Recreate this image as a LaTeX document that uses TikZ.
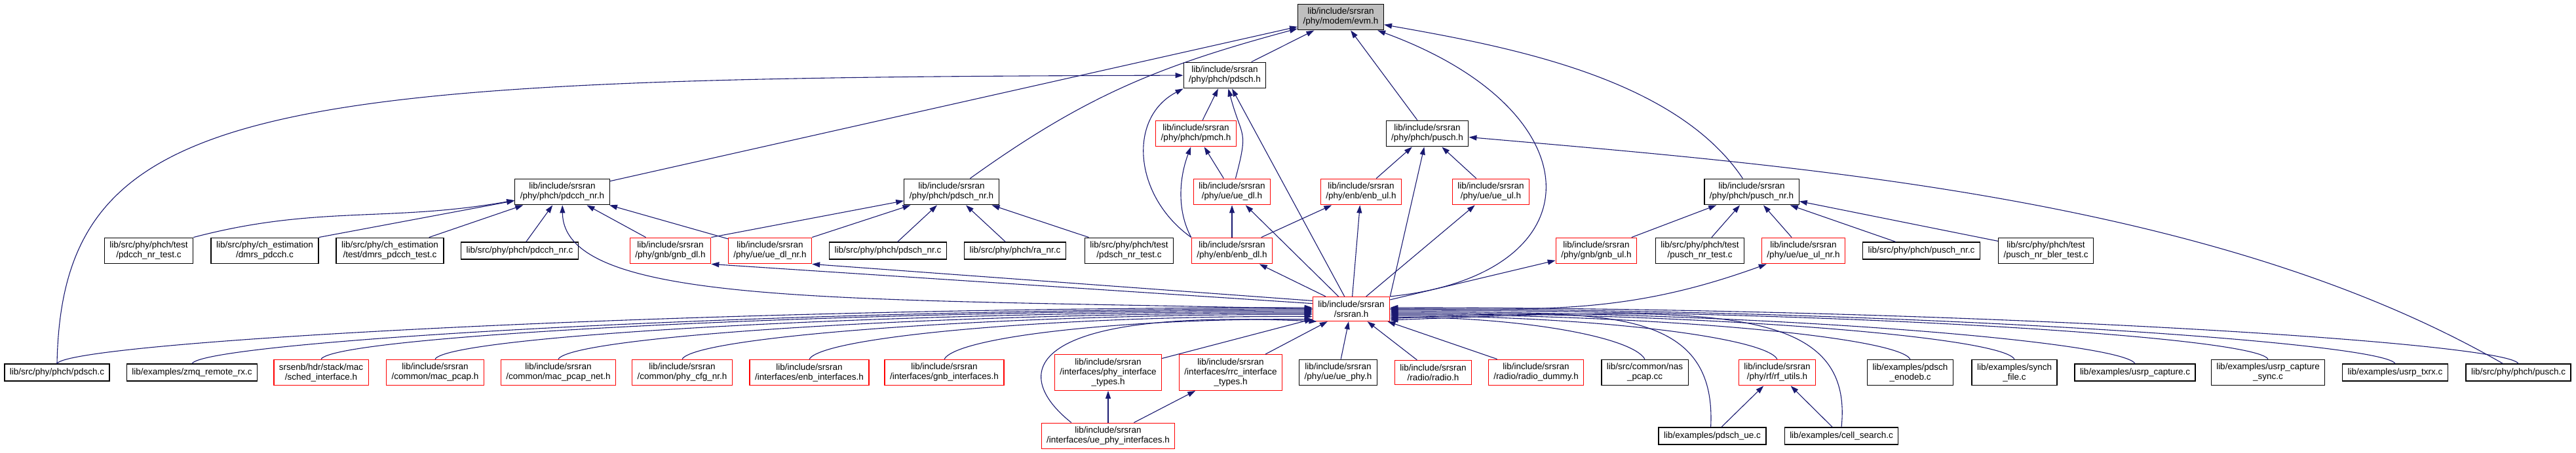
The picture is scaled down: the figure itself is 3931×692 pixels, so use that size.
\documentclass[tikz,border=0pt]{standalone}
\usepackage{fontspec}
\usetikzlibrary{arrows.meta}
\newfontfamily\doxysans{Liberation Sans}
\newcommand\doxyfont{\doxysans\fontsize{13.5}{15}\selectfont}
\definecolor{edgeblue}{HTML}{191970}
\definecolor{rootgray}{HTML}{BFBFBF}
\tikzset{
  file/.style={draw=black,line width=1.3pt,fill=white,align=center,inner xsep=8pt,inner ysep=6pt,minimum height=26pt,font=\doxyfont},
  trunc/.style={file,draw=red},
  root/.style={file,fill=rootgray},
  dep/.style={draw=edgeblue,line width=1.1pt,-{Triangle[length=12pt,width=8pt]}},
}
\begin{document}
\begin{tikzpicture}[x=1pt,y=1pt]
\useasboundingbox (0,0) rectangle (3931,-692);
% headers, top part
\node[root] (evm) at (2046,-26) {lib/include/srsran\\/phy/modem/evm.h};
\node[file] (pdschh) at (1869,-115) {lib/include/srsran\\/phy/phch/pdsch.h};
\node[trunc] (pmch) at (1825,-204) {lib/include/srsran\\/phy/phch/pmch.h};
\node[file] (puschh) at (2178,-204) {lib/include/srsran\\/phy/phch/pusch.h};
\node[file] (pdcchnr) at (858,-293) {lib/include/srsran\\/phy/phch/pdcch\_nr.h};
\node[file] (pdschnr) at (1452,-293) {lib/include/srsran\\/phy/phch/pdsch\_nr.h};
\node[trunc] (uedl) at (1880,-293) {lib/include/srsran\\/phy/ue/ue\_dl.h};
\node[trunc] (enbul) at (2077,-293) {lib/include/srsran\\/phy/enb/enb\_ul.h};
\node[trunc] (ueul) at (2275,-293) {lib/include/srsran\\/phy/ue/ue\_ul.h};
\node[file] (puschnr) at (2673,-293) {lib/include/srsran\\/phy/phch/pusch\_nr.h};
% row of nr files
\node[file] (pdcchnrtest) at (227,-383) {lib/src/phy/phch/test\\/pdcch\_nr\_test.c};
\node[file] (dmrspdcch) at (404,-383) {lib/src/phy/ch\_estimation\\/dmrs\_pdcch.c};
\node[file] (dmrspdcchtest) at (595,-383) {lib/src/phy/ch\_estimation\\/test/dmrs\_pdcch\_test.c};
\node[file] (pdcchnrc) at (793,-383) {lib/src/phy/phch/pdcch\_nr.c};
\node[trunc] (gnbdl) at (1023,-383) {lib/include/srsran\\/phy/gnb/gnb\_dl.h};
\node[trunc] (uedlnr) at (1175,-383) {lib/include/srsran\\/phy/ue/ue\_dl\_nr.h};
\node[file] (pdschnrc) at (1355,-383) {lib/src/phy/phch/pdsch\_nr.c};
\node[file] (ranrc) at (1549,-383) {lib/src/phy/phch/ra\_nr.c};
\node[file] (pdschnrtest) at (1723,-383) {lib/src/phy/phch/test\\/pdsch\_nr\_test.c};
\node[trunc] (enbdl) at (1880,-383) {lib/include/srsran\\/phy/enb/enb\_dl.h};
\node[trunc] (gnbul) at (2436,-383) {lib/include/srsran\\/phy/gnb/gnb\_ul.h};
\node[file] (puschnrtest) at (2594,-383) {lib/src/phy/phch/test\\/pusch\_nr\_test.c};
\node[trunc] (ueulnr) at (2752,-383) {lib/include/srsran\\/phy/ue/ue\_ul\_nr.h};
\node[file] (puschnrc) at (2932,-383) {lib/src/phy/phch/pusch\_nr.c};
\node[file] (puschnrbler) at (3122,-383) {lib/src/phy/phch/test\\/pusch\_nr\_bler\_test.c};
\node[trunc] (srsran) at (2062,-472) {lib/include/srsran\\/srsran.h};
% files including srsran.h
\node[file] (pdschc) at (87,-569) {lib/src/phy/phch/pdsch.c};
\node[file] (zmqrx) at (293,-569) {lib/examples/zmq\_remote\_rx.c};
\node[trunc] (schedif) at (490,-569) {srsenb/hdr/stack/mac\\/sched\_interface.h};
\node[trunc] (macpcap) at (664,-569) {lib/include/srsran\\/common/mac\_pcap.h};
\node[trunc] (macpcapnet) at (852,-569) {lib/include/srsran\\/common/mac\_pcap\_net.h};
\node[trunc] (phycfgnr) at (1041,-569) {lib/include/srsran\\/common/phy\_cfg\_nr.h};
\node[trunc] (enbif) at (1235,-569) {lib/include/srsran\\/interfaces/enb\_interfaces.h};
\node[trunc] (gnbif) at (1441,-569) {lib/include/srsran\\/interfaces/gnb\_interfaces.h};
\node[trunc] (phyiftypes) at (1691,-569) {lib/include/srsran\\/interfaces/phy\_interface\\\_types.h};
\node[trunc] (rrciftypes) at (1878,-569) {lib/include/srsran\\/interfaces/rrc\_interface\\\_types.h};
\node[file] (uephy) at (2042,-569) {lib/include/srsran\\/phy/ue/ue\_phy.h};
\node[trunc] (radio) at (2187,-569) {lib/include/srsran\\/radio/radio.h};
\node[trunc] (radiodummy) at (2344,-569) {lib/include/srsran\\/radio/radio\_dummy.h};
\node[file] (naspcap) at (2510,-569) {lib/src/common/nas\\\_pcap.cc};
\node[trunc] (rfutils) at (2712,-569) {lib/include/srsran\\/phy/rf/rf\_utils.h};
\node[file] (pdschenodeb) at (2915,-569) {lib/examples/pdsch\\\_enodeb.c};
\node[file] (synchfile) at (3074,-569) {lib/examples/synch\\\_file.c};
\node[file] (usrpcapture) at (3258,-569) {lib/examples/usrp\_capture.c};
\node[file] (usrpcapturesync) at (3461,-569) {lib/examples/usrp\_capture\\\_sync.c};
\node[file] (usrptxrx) at (3655,-569) {lib/examples/usrp\_txrx.c};
\node[file] (puschc) at (3843,-569) {lib/src/phy/phch/pusch.c};
\node[trunc] (uephyif) at (1691,-666) {lib/include/srsran\\/interfaces/ue\_phy\_interfaces.h};
\node[file] (pdschue) at (2613,-666) {lib/examples/pdsch\_ue.c};
\node[file] (cellsearch) at (2810,-666) {lib/examples/cell\_search.c};
% to evm.h
\draw[dep] (pdschh) -- (evm);
\draw[dep] (puschh) -- (evm);
\draw[dep] (pdcchnr) -- (evm);
\draw[dep] (pdschnr) .. controls (1655,-147) and (1767,-101) .. (evm);
\draw[dep] (puschnr) .. controls (2556,-118) and (2300,-71) .. (evm);
\draw[dep] (srsran.north east) .. controls (2440,-420) and (2440,-170) .. (evm.-20);
% to pdsch.h, pmch.h, pusch.h
\draw[dep] (pmch) -- (pdschh);
\draw[dep] (uedl) .. controls (1906,-195) and (1895,-213) .. (pdschh);
\draw[dep] (enbdl.north west) .. controls (1730,-300) and (1720,-180) .. (pdschh.south west);
\draw[dep] (srsran) -- (pdschh);
\draw[dep] (pdschc.north) .. controls (95,-150) and (400,-118) .. (pdschh);
\draw[dep] (uedl) -- (pmch);
\draw[dep] (enbdl.north west) .. controls (1795,-320) and (1800,-270) .. (pmch);
\draw[dep] (enbul) -- (puschh);
\draw[dep] (ueul) -- (puschh);
\draw[dep] (srsran.north east) -- (puschh);
\draw[dep] (puschc) .. controls (3379,-302) and (2750,-254) .. (puschh);
% to pdcch_nr.h, pdsch_nr.h, pusch_nr.h
\draw[dep] (pdcchnrtest.north east) .. controls (483,-313) and (595,-340) .. (pdcchnr);
\draw[dep] (dmrspdcch.north east) -- (pdcchnr);
\draw[dep] (dmrspdcchtest) -- (pdcchnr);
\draw[dep] (pdcchnrc) -- (pdcchnr);
\draw[dep] (gnbdl) -- (pdcchnr);
\draw[dep] (uedlnr) -- (pdcchnr);
\draw[dep] (srsran.west) .. controls (1300,-455) and (860,-470) .. (pdcchnr);
\draw[dep] (gnbdl.north east) -- (pdschnr);
\draw[dep] (uedlnr.north east) -- (pdschnr);
\draw[dep] (pdschnrc) -- (pdschnr);
\draw[dep] (ranrc) -- (pdschnr);
\draw[dep] (pdschnrtest) -- (pdschnr);
\draw[dep] (gnbul) -- (puschnr);
\draw[dep] (puschnrtest) -- (puschnr);
\draw[dep] (ueulnr) -- (puschnr);
\draw[dep] (puschnrc) -- (puschnr);
\draw[dep] (puschnrbler) -- (puschnr);
% from srsran.h upwards
\draw[dep] (enbdl) -- (uedl);
\draw[dep] (srsran) -- (uedl);
\draw[dep] (enbdl) -- (enbul);
\draw[dep] (srsran) -- (enbul);
\draw[dep] (srsran) -- (ueul);
\draw[dep] (srsran) -- (enbdl);
\draw[dep] (srsran.172) -- (gnbdl.south east);
\draw[dep] (srsran.168) -- (uedlnr.south east);
\draw[dep] (srsran) -- (gnbul);
\draw[dep] (srsran.east) .. controls (2354,-472) and (2479,-482) .. (ueulnr);
% into srsran.h from the left
\draw[dep] (pdschc.north) .. controls (107,-522) and (1044,-470) .. (srsran.178);
\draw[dep] (zmqrx.north) .. controls (313,-522) and (1150,-472) .. (srsran.180);
\draw[dep] (schedif.north) .. controls (510,-514) and (1250,-474) .. (srsran.182);
\draw[dep] (macpcap.north) .. controls (684,-514) and (1330,-476) .. (srsran.184);
\draw[dep] (macpcapnet.north) .. controls (872,-514) and (1425,-478) .. (srsran.186);
\draw[dep] (phycfgnr.north) .. controls (1061,-514) and (1520,-480) .. (srsran.188);
\draw[dep] (enbif.north) .. controls (1255,-514) and (1615,-482) .. (srsran.191);
\draw[dep] (gnbif.north) .. controls (1461,-514) and (1720,-486) .. (srsran.195);
\draw[dep] (uephyif.160) .. controls (1540,-570) and (1560,-470) .. (srsran.200);
% into srsran.h from below
\draw[dep] (phyiftypes) -- (srsran);
\draw[dep] (rrciftypes) -- (srsran);
\draw[dep] (uephy) -- (srsran);
\draw[dep] (radio) -- (srsran);
\draw[dep] (radiodummy) -- (srsran);
% into srsran.h from the right
\draw[dep] (naspcap.north) .. controls (2490,-514) and (2317,-484) .. (srsran.-12);
\draw[dep] (rfutils.north) .. controls (2692,-514) and (2417,-482) .. (srsran.-10);
\draw[dep] (pdschenodeb.north) .. controls (2895,-514) and (2517,-480) .. (srsran.-8);
\draw[dep] (synchfile.north) .. controls (3054,-514) and (2597,-478) .. (srsran.-6);
\draw[dep] (usrpcapture.north) .. controls (3238,-522) and (2692,-476) .. (srsran.-4);
\draw[dep] (usrpcapturesync.north) .. controls (3441,-514) and (2792,-474) .. (srsran.-2);
\draw[dep] (usrptxrx.north) .. controls (3635,-522) and (2887,-472) .. (srsran.0);
\draw[dep] (puschc.north) .. controls (3823,-522) and (2982,-470) .. (srsran.2);
\draw[dep] (pdschue.100) .. controls (2620,-470) and (2450,-470) .. (srsran.-14);
\draw[dep] (cellsearch.north) .. controls (2830,-460) and (2600,-470) .. (srsran.-16);
% bottom row
\draw[dep] (uephyif) -- (phyiftypes);
\draw[dep] (uephyif) -- (rrciftypes);
\draw[dep] (pdschue) -- (rfutils);
\draw[dep] (cellsearch) -- (rfutils);
\end{tikzpicture}
\end{document}
